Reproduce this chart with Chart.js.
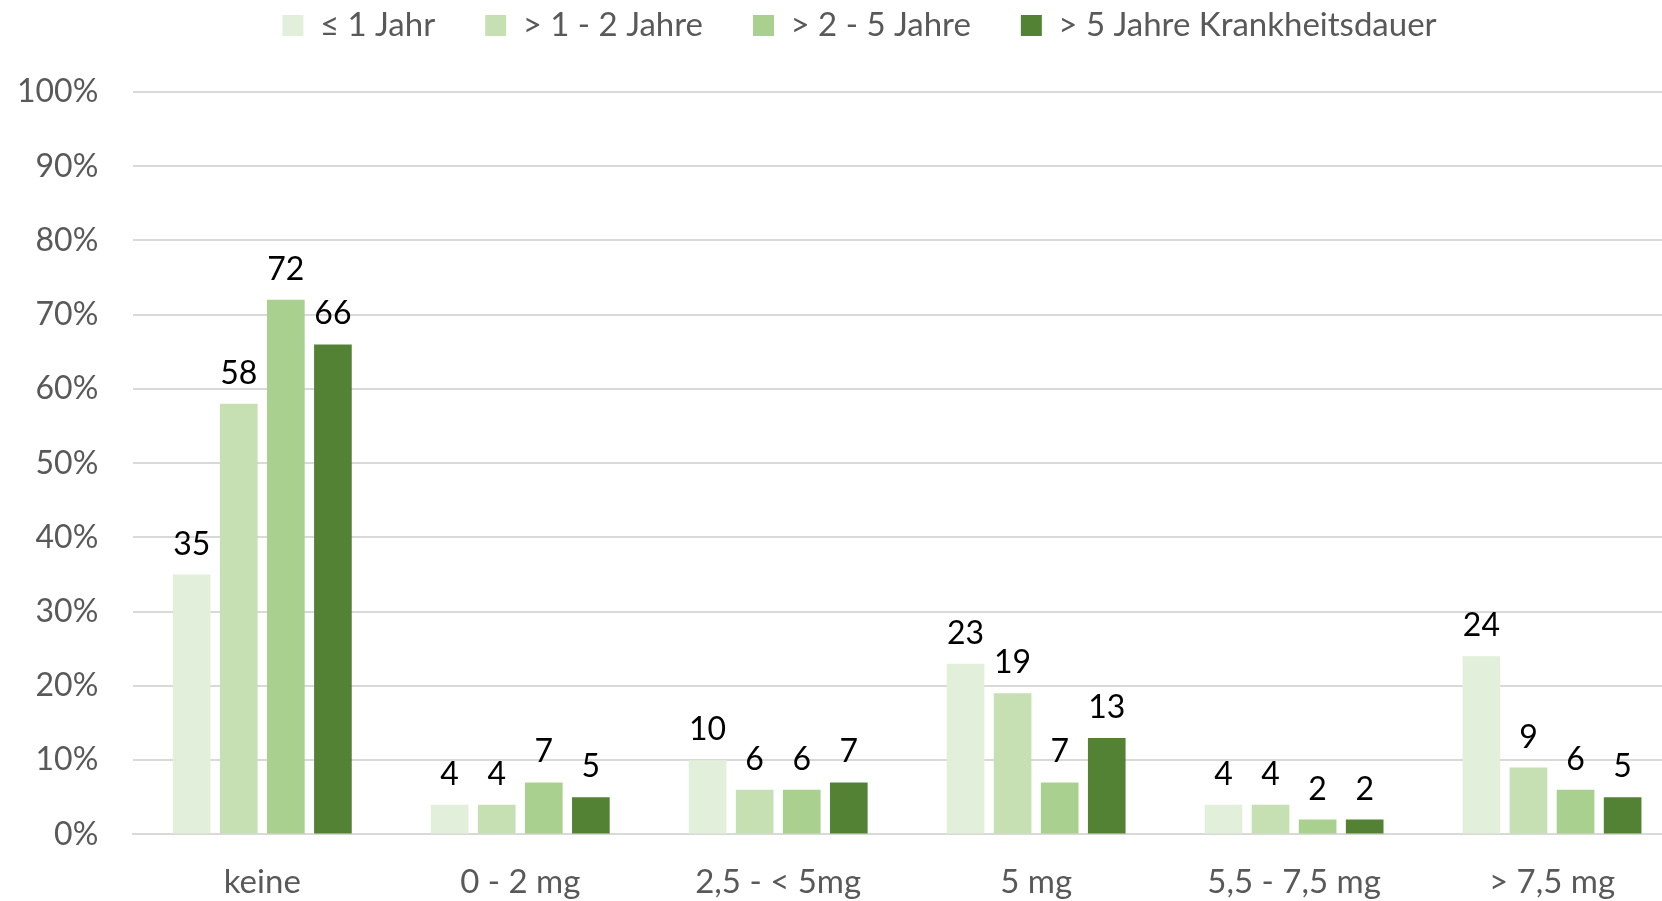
<!DOCTYPE html>
<html>
<head>
<meta charset="utf-8">
<script src="https://cdn.jsdelivr.net/npm/chart.js@4"></script>
<style>
  html, body { margin: 0; padding: 0; background: #fff; overflow: hidden; }
  #wrap { width: 1681px; height: 901px; position: relative; }
</style>
</head>
<body>
<div id="wrap"><canvas id="chart"></canvas></div>
<script>
// Categories and series
const categories = ['keine', '0 - 2 mg', '2,5 - < 5mg', '5 mg', '5,5 - 7,5 mg', '> 7,5 mg'];
const seriesNames = ['\u2264 1 Jahr', '> 1 - 2 Jahre', '> 2 - 5 Jahre', '> 5 Jahre Krankheitsdauer'];
const upTo1 = [35, 4, 10, 23, 4, 24];
const from1to2 = [58, 4, 6, 19, 4, 9];
const from2to5 = [72, 7, 6, 7, 2, 6];
const over5 = [66, 5, 7, 13, 2, 5];
const colors = ['#E2EFDA', '#C6E0B4', '#A9D08E', '#548235'];

const FONT = 'Lato, "Open Sans", sans-serif';

// draws the value above each bar
const valueLabels = {
    id: 'valueLabels',
    afterDatasetsDraw(chart) {
        const ctx = chart.ctx;
        ctx.save();
        ctx.font = '32px ' + FONT;
        ctx.fillStyle = '#000';
        ctx.textAlign = 'center';
        ctx.textBaseline = 'alphabetic';
        chart.data.datasets.forEach((ds, i) => {
            chart.getDatasetMeta(i).data.forEach((bar, j) => {
                ctx.fillText(ds.data[j], bar.x, bar.y - 20);
            });
        });
        ctx.restore();
    }
};

// extra room below the legend, and nudge it to the right like the original
const legendSpace = {
    id: 'legendSpace',
    beforeInit(chart) {
        const fit = chart.legend.fit;
        chart.legend.fit = function () {
            fit.call(this);
            this.height += 40;
        };
    },
    afterLayout(chart) {
        chart.legend.left += 28;
        chart.legend.right += 28;
    }
};

const allSeries = [upTo1, from1to2, from2to5, over5];

new Chart(document.getElementById('chart'), {
    type: 'bar',
    data: {
        labels: categories,
        datasets: allSeries.map((vals, i) => ({
            label: seriesNames[i],
            data: vals,
            backgroundColor: colors[i],
            borderWidth: 0,
            categoryPercentage: 0.73,
            barPercentage: 0.8
        }))
    },
    options: {
        responsive: true,
        maintainAspectRatio: false,
        animation: false,
        layout: { padding: { left: -18, right: 0, top: -41, bottom: -29 } },
        plugins: {
            legend: {
                position: 'top',
                labels: {
                    font: { family: FONT, size: 33 },
                    color: '#595959',
                    boxWidth: 21,
                    boxHeight: 21,
                    padding: 50
                }
            },
            tooltip: { enabled: false }
        },
        scales: {
            y: {
                min: 0,
                max: 100,
                ticks: {
                    stepSize: 10,
                    font: { family: FONT, size: 32 },
                    color: '#595959',
                    padding: 35,
                    callback: v => v + '%'
                },
                grid: { color: '#D9D9D9', lineWidth: 2, drawTicks: false },
                border: { display: false }
            },
            x: {
                ticks: {
                    font: { family: FONT, size: 33 },
                    color: '#595959',
                    padding: 28
                },
                grid: { display: false, drawTicks: false },
                border: { color: '#D9D9D9', width: 2 }
            }
        }
    },
    plugins: [valueLabels, legendSpace]
});
</script>
</body>
</html>
